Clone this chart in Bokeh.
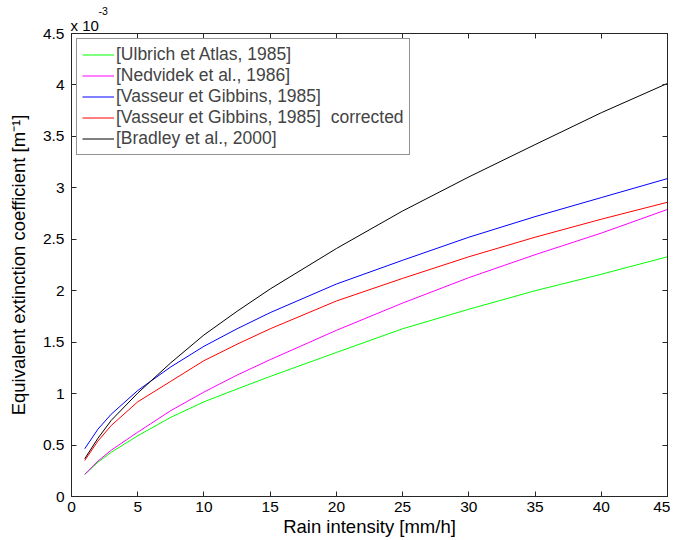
from bokeh.plotting import figure
from bokeh.models import LinearAxis, Title, FixedTicker, Range1d, NumeralTickFormatter
from bokeh.embed import file_html
from bokeh.resources import INLINE

# Rain intensity [mm/h]
rain = [1, 2, 3, 5, 7.5, 10, 12.5, 15, 20, 25, 30, 35, 40, 45]
# Equivalent extinction coefficient [x 1e-3 m^-1]
ulbrich = [0.214, 0.334, 0.43, 0.59, 0.77, 0.92, 1.045, 1.167, 1.40, 1.63, 1.82, 2.0, 2.16, 2.33]
nedvidek = [0.214, 0.345, 0.45, 0.625, 0.835, 1.015, 1.18, 1.33, 1.615, 1.88, 2.127, 2.35, 2.56, 2.79]
vasseur = [0.464, 0.655, 0.80, 1.03, 1.26, 1.46, 1.63, 1.787, 2.065, 2.296, 2.52, 2.72, 2.905, 3.09]
vasseur_corr = [0.35, 0.54, 0.69, 0.92, 1.12, 1.32, 1.48, 1.63, 1.90, 2.12, 2.33, 2.52, 2.695, 2.86]
bradley = [0.367, 0.567, 0.74, 1.005, 1.30, 1.57, 1.80, 2.017, 2.41, 2.775, 3.106, 3.42, 3.73, 4.015]

labels = ["[Ulbrich et Atlas, 1985]", "[Nedvidek et al., 1986]",
          "[Vasseur et Gibbins, 1985]", "[Vasseur et Gibbins, 1985]  corrected",
          "[Bradley et al., 2000]"]
colors = ["#00ff00", "#ff00ff", "#0000ff", "#ff0000", "#000000"]
series = [ulbrich, nedvidek, vasseur, vasseur_corr, bradley]

x_ticks = [0, 5, 10, 15, 20, 25, 30, 35, 40, 45]
y_ticks = [0, 0.5, 1, 1.5, 2, 2.5, 3, 3.5, 4, 4.5]

FONT = "Liberation Sans"
AX = "#262626"

p = figure(frame_width=596, frame_height=463,
           x_range=Range1d(0, 45), y_range=Range1d(0, 4.5),
           output_backend="svg", toolbar_location=None,
           min_border_left=71, min_border_top=33, min_border_right=3,
           min_border_bottom=36)
p.background_fill_color = "white"
p.border_fill_color = "white"
p.outline_line_color = AX
p.grid.visible = False

for ys, c, lab in zip(series, colors, labels):
    p.line(rain, ys, line_color=c, line_width=1, legend_label=lab)

def style_axis(ax, show_labels=True):
    ax.axis_line_color = AX
    ax.major_tick_line_color = AX
    ax.major_tick_in = 5
    ax.major_tick_out = 0
    ax.minor_tick_line_color = None
    ax.minor_tick_in = 0
    ax.minor_tick_out = 0
    ax.major_label_text_font = FONT
    ax.major_label_text_color = "black"
    ax.axis_label_text_font = FONT
    ax.axis_label_text_font_style = "normal"
    ax.axis_label_text_color = "black"
    if show_labels:
        ax.major_label_text_font_size = "15.5px"
        ax.axis_label_text_font_size = "18.5px"
    else:
        ax.major_label_text_font_size = "0px"
        ax.major_label_text_color = None
        ax.major_label_standoff = 0
        ax.axis_label_standoff = 0

xa = p.xaxis[0]
ya = p.yaxis[0]
style_axis(xa)
style_axis(ya)
xa.ticker = FixedTicker(ticks=x_ticks)
ya.ticker = FixedTicker(ticks=y_ticks)
ya.formatter = NumeralTickFormatter(format="0.[0]")
xa.axis_label = "Rain intensity [mm/h]"
ya.axis_label = "Equivalent extinction coefficient [m\u207b\u00b9]"
xa.major_label_standoff = 5
xa.axis_label_standoff = 1
ya.major_label_standoff = 7
ya.axis_label_standoff = 11

top = LinearAxis(ticker=FixedTicker(ticks=x_ticks))
right = LinearAxis(ticker=FixedTicker(ticks=y_ticks))
style_axis(top, False)
style_axis(right, False)
p.add_layout(top, "above")
p.add_layout(right, "right")

t1 = Title(text="x 10", align="left", offset=-1, standoff=0,
           text_font=FONT, text_font_size="15px", text_font_style="normal",
           text_color="black")
t2 = Title(text="-3", align="left", offset=27, standoff=0,
           text_font=FONT, text_font_size="10.5px", text_font_style="normal",
           text_color="black")
p.add_layout(t1, "above")
p.add_layout(t2, "above")

lg = p.legend[0]
lg.location = "top_left"
lg.margin = 5
lg.padding = 5
lg.spacing = 0
lg.label_height = 21
lg.glyph_height = 21
lg.glyph_width = 32
lg.label_standoff = 2
lg.label_text_font = FONT
lg.label_text_font_size = "17.5px"
lg.border_line_color = AX
lg.border_line_width = 1
lg.background_fill_color = "white"
lg.background_fill_alpha = 1

open("out.html", "w").write(file_html(p, INLINE))
